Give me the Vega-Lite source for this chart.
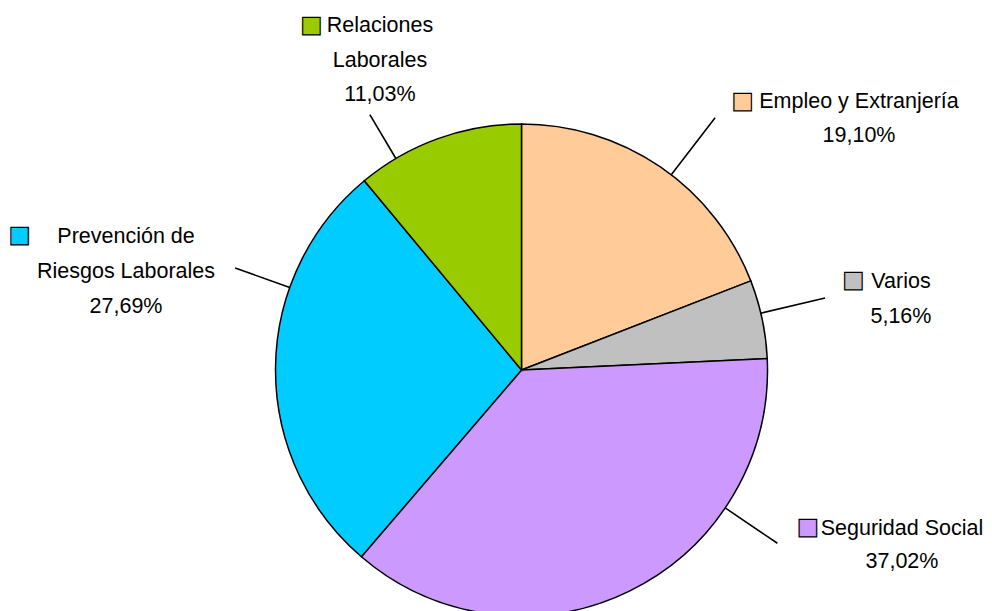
{
  "$schema": "https://vega.github.io/schema/vega-lite/v6.json",
  "width": 941,
  "height": 482,
  "autosize": {"type": "none"},
  "padding": {"left": 51, "top": 129, "right": 0, "bottom": 0},
  "background": "white",
  "data": {
    "values": [
      {"categoria": "Empleo y Extranjería", "etiqueta": "Empleo y Extranjería", "porcentaje": 19.10, "orden": 1},
      {"categoria": "Varios", "etiqueta": "Varios", "porcentaje": 5.16, "orden": 2},
      {"categoria": "Seguridad Social", "etiqueta": "Seguridad Social", "porcentaje": 37.02, "orden": 3},
      {"categoria": "Prevención de Riesgos Laborales", "etiqueta": "Prevención de\nRiesgos Laborales", "porcentaje": 27.69, "orden": 4},
      {"categoria": "Relaciones Laborales", "etiqueta": "Relaciones\nLaborales", "porcentaje": 11.03, "orden": 5}
    ]
  },
  "transform": [
    {"window": [{"op": "sum", "field": "porcentaje", "as": "acum"}], "sort": [{"field": "orden"}], "frame": [null, 0]},
    {"calculate": "datum.acum - datum.porcentaje / 2", "as": "medio"},
    {"calculate": "datum.etiqueta + '\\n' + replace(format(datum.porcentaje, '.2f'), '.', ',') + '%'", "as": "texto"}
  ],
  "layer": [
    {
      "mark": {"type": "arc", "outerRadius": 246, "stroke": "black", "strokeWidth": 1.5},
      "encoding": {
        "theta": {"field": "porcentaje", "type": "quantitative", "stack": true, "scale": {"domain": [0, 100]}},
        "order": {"field": "orden", "type": "quantitative"},
        "color": {
          "field": "categoria", "type": "nominal", "legend": null,
          "scale": {
            "domain": ["Empleo y Extranjería", "Varios", "Seguridad Social", "Prevención de Riesgos Laborales", "Relaciones Laborales"],
            "range": ["#FFCC99", "#C0C0C0", "#CC99FF", "#00CCFF", "#99CC00"]
          }
        }
      }
    },
    {
      "transform": [{"filter": "datum.orden == 1"}],
      "layer": [
        {"mark": {"type": "arc", "radius": 318, "radius2": 246, "thetaOffset": 0.0545, "theta2Offset": 0.0545, "stroke": "black", "strokeWidth": 1.6, "fill": null},
         "encoding": {"theta": {"field": "medio", "type": "quantitative", "stack": null}, "theta2": {"field": "medio"}}},
        {"mark": {"type": "text", "radius": 246, "dx": 198.6, "dy": -59, "align": "center", "baseline": "alphabetic", "lineBreak": "\n", "lineHeight": 34.5, "font": "Liberation Sans, Arial, sans-serif", "fontSize": 21.5, "fill": "black"},
         "encoding": {"theta": {"field": "medio", "type": "quantitative"}, "text": {"field": "texto"}}},
        {"mark": {"type": "text", "text": "■", "radius": 246, "dx": 82.1, "dy": -66, "align": "center", "baseline": "middle", "font": "DejaVu Sans", "fontSize": 23, "stroke": "black", "strokeWidth": 1.2},
         "encoding": {"theta": {"field": "medio", "type": "quantitative"}, "color": {"field": "categoria", "type": "nominal", "legend": null}}}
      ]
    },
    {
      "transform": [{"filter": "datum.orden == 2"}],
      "layer": [
        {"mark": {"type": "arc", "radius": 312, "radius2": 246, "thetaOffset": -0.0244, "theta2Offset": -0.0244, "stroke": "black", "strokeWidth": 1.6, "fill": null},
         "encoding": {"theta": {"field": "medio", "type": "quantitative", "stack": null}, "theta2": {"field": "medio"}}},
        {"mark": {"type": "text", "radius": 246, "dx": 138.8, "dy": -31.1, "align": "center", "baseline": "alphabetic", "lineBreak": "\n", "lineHeight": 35.5, "font": "Liberation Sans, Arial, sans-serif", "fontSize": 21.5, "fill": "black"},
         "encoding": {"theta": {"field": "medio", "type": "quantitative"}, "text": {"field": "texto"}}},
        {"mark": {"type": "text", "text": "■", "radius": 246, "dx": 91.3, "dy": -38.6, "align": "center", "baseline": "middle", "font": "DejaVu Sans", "fontSize": 23, "stroke": "black", "strokeWidth": 1.2},
         "encoding": {"theta": {"field": "medio", "type": "quantitative"}, "color": {"field": "categoria", "type": "nominal", "legend": null}}}
      ]
    },
    {
      "transform": [{"filter": "datum.orden == 3"}],
      "layer": [
        {"mark": {"type": "arc", "radius": 309, "radius2": 246, "thetaOffset": -0.5213, "theta2Offset": -0.5213, "stroke": "black", "strokeWidth": 1.6, "fill": null},
         "encoding": {"theta": {"field": "medio", "type": "quantitative", "stack": null}, "theta2": {"field": "medio"}}},
        {"mark": {"type": "text", "radius": 246, "dx": 272.5, "dy": -56, "align": "center", "baseline": "alphabetic", "lineBreak": "\n", "lineHeight": 32.5, "font": "Liberation Sans, Arial, sans-serif", "fontSize": 21.5, "fill": "black"},
         "encoding": {"theta": {"field": "medio", "type": "quantitative"}, "text": {"field": "texto"}}},
        {"mark": {"type": "text", "text": "■", "radius": 246, "dx": 178.5, "dy": -64, "align": "center", "baseline": "middle", "font": "DejaVu Sans", "fontSize": 23, "stroke": "black", "strokeWidth": 1.2},
         "encoding": {"theta": {"field": "medio", "type": "quantitative"}, "color": {"field": "categoria", "type": "nominal", "legend": null}}}
      ]
    },
    {
      "transform": [{"filter": "datum.orden == 4"}],
      "layer": [
        {"mark": {"type": "arc", "radius": 304, "radius2": 246, "thetaOffset": 0.3342, "theta2Offset": 0.3342, "stroke": "black", "strokeWidth": 1.6, "fill": null},
         "encoding": {"theta": {"field": "medio", "type": "quantitative", "stack": null}, "theta2": {"field": "medio"}}},
        {"mark": {"type": "text", "radius": 246, "dx": -149.5, "dy": -125.1, "align": "center", "baseline": "alphabetic", "lineBreak": "\n", "lineHeight": 35, "font": "Liberation Sans, Arial, sans-serif", "fontSize": 21.5, "fill": "black"},
         "encoding": {"theta": {"field": "medio", "type": "quantitative"}, "text": {"field": "texto"}}},
        {"mark": {"type": "text", "text": "■", "radius": 246, "dx": -256, "dy": -132.6, "align": "center", "baseline": "middle", "font": "DejaVu Sans", "fontSize": 23, "stroke": "black", "strokeWidth": 1.2},
         "encoding": {"theta": {"field": "medio", "type": "quantitative"}, "color": {"field": "categoria", "type": "nominal", "legend": null}}}
      ]
    },
    {
      "transform": [{"filter": "datum.orden == 5"}],
      "layer": [
        {"mark": {"type": "arc", "radius": 297, "radius2": 246, "thetaOffset": -0.1894, "theta2Offset": -0.1894, "stroke": "black", "strokeWidth": 1.6, "fill": null},
         "encoding": {"theta": {"field": "medio", "type": "quantitative", "stack": null}, "theta2": {"field": "medio"}}},
        {"mark": {"type": "text", "radius": 246, "dx": -58, "dy": -106.6, "align": "center", "baseline": "alphabetic", "lineBreak": "\n", "lineHeight": 34.5, "font": "Liberation Sans, Arial, sans-serif", "fontSize": 21.5, "fill": "black"},
         "encoding": {"theta": {"field": "medio", "type": "quantitative"}, "text": {"field": "texto"}}},
        {"mark": {"type": "text", "text": "■", "radius": 246, "dx": -126.5, "dy": -113.6, "align": "center", "baseline": "middle", "font": "DejaVu Sans", "fontSize": 23, "stroke": "black", "strokeWidth": 1.2},
         "encoding": {"theta": {"field": "medio", "type": "quantitative"}, "color": {"field": "categoria", "type": "nominal", "legend": null}}}
      ]
    }
  ]
}
